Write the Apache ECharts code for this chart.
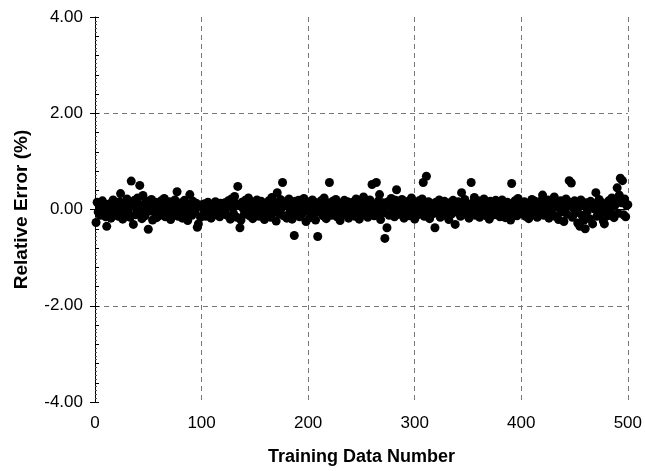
<!DOCTYPE html>
<html>
<head>
<meta charset="utf-8">
<script src="https://cdn.jsdelivr.net/npm/echarts@6/dist/echarts.min.js"></script>
<style>
  html, body { margin: 0; padding: 0; background: #fff; }
  #chart { width: 645px; height: 471px; }
</style>
</head>
<body>
<div id="chart"></div>
<script>
// relative error (%) for training samples 1..500
const relError = [
  -0.27, 0.15, -0.05, 0.08, -0.12, 0.02, 0.18, -0.08, 0.05, -0.15, -0.35, 0.10, -0.02, 0.12, -0.18, 0.04, 0.20, -0.06, 0.09, -0.10,
  0.06, -0.14, 0.16, 0.33, 0.00, -0.20, 0.11, 0.05, -0.09, 0.22, -0.04, 0.14, -0.16, 0.59, 0.07, -0.31, 0.19, -0.11, 0.03, 0.24,
  -0.07, 0.50, 0.10, -0.19, 0.29, 0.01, -0.13, 0.17, 0.06, -0.41, 0.13, -0.03, 0.21, -0.22, 0.08, -0.06, 0.15, -0.17, 0.04, 0.11,
  -0.12, 0.18, 0.02, -0.08, 0.23, -0.15, 0.07, 0.12, -0.04, 0.16, -0.21, 0.09, 0.01, -0.10, 0.20, 0.05, 0.37, -0.14, 0.10, -0.02,
  0.14, -0.18, 0.06, 0.19, -0.07, 0.03, -0.23, 0.11, 0.31, 0.00, -0.12, 0.17, 0.08, -0.05, 0.13, -0.37, -0.30, 0.07, -0.16, 0.10,
  0.04, -0.09, 0.12, -0.14, 0.06, 0.15, -0.03, 0.09, -0.18, 0.02, 0.11, -0.07, 0.16, -0.11, 0.05, 0.08, -0.15, 0.13, -0.01, 0.10,
  -0.06, 0.14, 0.03, -0.12, 0.18, 0.07, -0.20, 0.22, 0.05, -0.08, 0.27, 0.12, -0.16, 0.48, 0.09, -0.38, -0.22, 0.15, 0.02, -0.10,
  0.19, -0.05, 0.11, 0.24, -0.13, 0.06, 0.16, -0.19, 0.01, 0.13, -0.08, 0.20, 0.04, -0.14, 0.10, 0.17, -0.03, 0.08, -0.21, 0.12,
  0.05, -0.11, 0.18, 0.02, -0.16, 0.25, 0.09, -0.06, 0.14, -0.24, 0.35, 0.07, -0.09, 0.21, 0.03, 0.56, -0.13, 0.16, 0.10, -0.18,
  0.08, 0.22, -0.04, 0.13, -0.20, 0.06, -0.54, 0.17, -0.10, 0.04, 0.19, -0.15, 0.11, 0.00, -0.08, 0.23, 0.07, -0.25, 0.14, -0.03,
  0.10, -0.17, 0.05, 0.20, -0.09, 0.15, -0.22, 0.02, -0.56, 0.12, -0.06, 0.18, 0.08, -0.13, 0.24, 0.01, -0.19, 0.14, -0.02, 0.56,
  0.09, -0.12, 0.17, 0.04, -0.07, 0.21, -0.15, 0.11, 0.06, -0.23, 0.13, 0.00, -0.10, 0.19, 0.07, -0.05, 0.16, -0.18, 0.03, 0.12,
  -0.08, 0.15, 0.05, -0.14, 0.22, -0.02, 0.10, -0.20, 0.17, 0.08, -0.11, 0.26, 0.03, -0.06, 0.14, -0.16, 0.09, 0.20, -0.04, 0.52,
  0.11, -0.13, 0.06, 0.56, -0.09, 0.18, 0.31, -0.21, 0.02, 0.14, -0.07, -0.60, 0.09, -0.38, 0.16, -0.12, 0.05, 0.23, -0.03, 0.10,
  -0.15, 0.19, 0.41, 0.07, -0.10, 0.13, -0.05, 0.21, 0.01, -0.18, 0.12, 0.06, -0.08, 0.17, -0.13, 0.04, 0.24, -0.02, 0.09, -0.20,
  0.14, 0.03, -0.11, 0.18, -0.06, 0.08, 0.22, 0.56, -0.14, 0.11, 0.69, -0.04, 0.16, -0.19, 0.07, 0.12, -0.09, 0.02, -0.38, 0.15,
  -0.07, 0.10, 0.20, -0.16, 0.05, 0.13, -0.03, 0.17, -0.12, 0.08, 0.01, -0.21, 0.14, 0.06, -0.09, 0.19, 0.03, -0.31, 0.11, -0.05,
  0.16, 0.07, -0.14, 0.35, 0.02, -0.10, 0.21, -0.06, 0.12, 0.09, -0.18, 0.04, 0.56, -0.08, 0.15, 0.25, -0.12, 0.06, -0.02, 0.18,
  -0.16, 0.11, 0.05, -0.09, 0.22, 0.00, -0.13, 0.14, 0.08, -0.20, 0.17, -0.04, 0.10, 0.03, -0.11, 0.19, -0.07, 0.13, 0.06, -0.15,
  0.09, 0.20, -0.02, 0.12, -0.17, 0.07, 0.15, -0.06, 0.01, -0.22, 0.54, 0.11, -0.10, 0.18, 0.04, -0.13, 0.23, 0.08, -0.05, 0.14,
  -0.09, 0.06, 0.16, -0.14, 0.10, 0.02, -0.19, 0.13, -0.04, 0.21, 0.07, -0.11, 0.17, 0.00, -0.16, 0.12, 0.05, -0.07, 0.19, 0.30,
  -0.12, 0.08, 0.14, -0.03, 0.20, -0.18, 0.10, 0.04, -0.08, 0.16, 0.26, -0.14, 0.06, 0.12, -0.21, 0.02, 0.18, -0.05, 0.09, -0.25,
  0.13, 0.22, -0.10, 0.07, 0.60, 0.15, 0.55, -0.16, 0.03, 0.18, -0.07, 0.11, -0.28, 0.05, -0.35, 0.20, -0.12, 0.09, -0.22, -0.40,
  0.14, -0.04, 0.10, -0.19, 0.17, 0.06, -0.30, 0.12, 0.01, 0.35, -0.14, 0.08, 0.21, -0.09, 0.15, -0.02, -0.24, -0.30, 0.11, 0.05,
  -0.13, 0.18, 0.07, -0.06, 0.24, 0.12, -0.17, 0.09, 0.20, 0.45, -0.08, 0.30, 0.65, 0.14, 0.60, -0.11, 0.22, -0.15, 0.08, 0.10
];

const xTitle = "Training Data Number";
const yTitle = "Relative Error (%)";

const font = "'Liberation Sans', Arial, sans-serif";
const chart = echarts.init(document.getElementById("chart"));

const points = relError.map((v, i) => [i + 1, v]);

chart.setOption({
  animation: false,
  grid: { left: 95, right: 17, top: 17, bottom: 68 },
  xAxis: [
    {
      type: "value",
      min: 0,
      max: 500,
      interval: 100,
      name: xTitle,
      nameLocation: "middle",
      nameGap: 46,
      nameTextStyle: { fontFamily: font, fontSize: 18, fontWeight: "bold", color: "#000" },
      axisLine: { lineStyle: { color: "#000", width: 1 } },
      axisTick: { show: false },
      minorTick: { show: true, splitNumber: 10, length: 2, lineStyle: { color: "#555" } },
      axisLabel: { fontFamily: font, fontSize: 17, color: "#000", margin: 13 },
      splitLine: { show: true, showMinLine: false, lineStyle: { color: "#777", type: [5, 4], width: 1 } }
    },
    {
      type: "value",
      position: "top",
      min: 0,
      max: 500,
      axisLine: { show: true, lineStyle: { color: "#000", width: 1 } },
      axisTick: { show: false },
      axisLabel: { show: false },
      splitLine: { show: false }
    }
  ],
  yAxis: [
    {
      type: "value",
      min: -4,
      max: 4,
      interval: 2,
      name: yTitle,
      nameLocation: "middle",
      nameGap: 64,
      nameTextStyle: { fontFamily: font, fontSize: 19, fontWeight: "bold", color: "#000" },
      axisLine: { show: true, lineStyle: { color: "#000", width: 1 } },
      axisTick: { show: true, length: 5, lineStyle: { color: "#000" } },
      axisLabel: {
        fontFamily: font, fontSize: 17, color: "#000", margin: 12,
        formatter: (v) => v.toFixed(2)
      },
      splitLine: { show: true, showMinLine: false, showMaxLine: false, lineStyle: { color: "#777", type: [5, 4], width: 1 } }
    },
    {
      type: "value",
      position: "left",
      min: -4,
      max: 4,
      interval: 0.4,
      axisLine: { show: false },
      axisTick: { show: true, inside: true, length: 4, lineStyle: { color: "#000" } },
      minorTick: { show: true, splitNumber: 5, length: 2, lineStyle: { color: "#555" } },
      axisLabel: { show: false },
      splitLine: { show: false }
    }
  ],
  series: [
    {
      type: "scatter",
      xAxisIndex: 0,
      yAxisIndex: 0,
      data: points,
      symbol: "circle",
      symbolSize: 9,
      itemStyle: { color: "#000", opacity: 1 }
    }
  ]
});
</script>
</body>
</html>
